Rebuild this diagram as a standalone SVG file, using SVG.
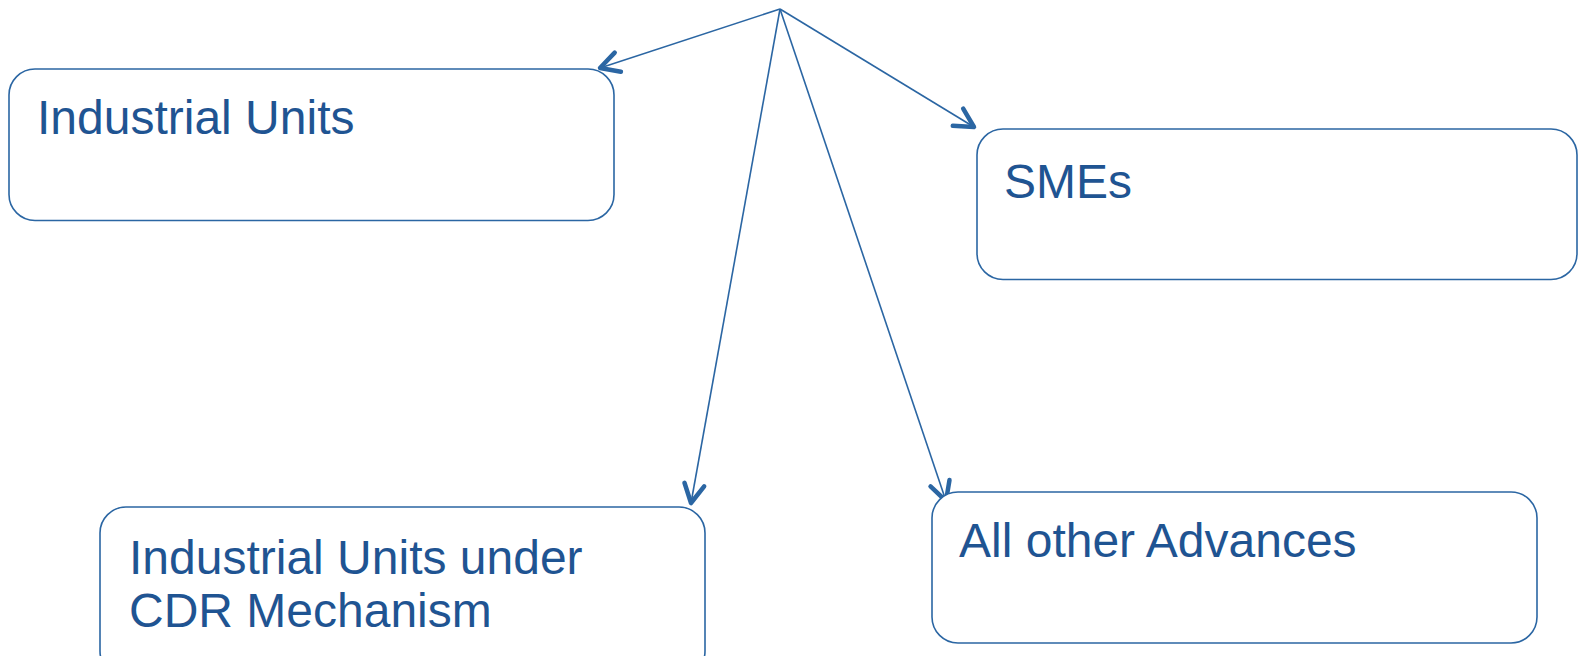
<svg xmlns="http://www.w3.org/2000/svg" width="1579" height="656" viewBox="0 0 1579 656">
<style>
.box{fill:#ffffff;stroke:#2b66a3;stroke-width:1.6}
.lbl{font-family:"Liberation Sans",Arial,sans-serif;font-size:48px;fill:#1f5492}
.conn{stroke:#2b66a3;stroke-width:1.6;fill:none;marker-end:url(#ah)}
</style>
<defs>
<marker id="ah" markerUnits="userSpaceOnUse" markerWidth="30" markerHeight="30" viewBox="-20 -10 24 20" refX="0" refY="0" orient="auto">
<path d="M-15,-8 L0,0 L-15,8" fill="none" stroke="#2b66a3" stroke-width="3.6" stroke-linecap="round" stroke-linejoin="round"/>
</marker>
</defs>
<rect width="1579" height="656" fill="#ffffff"/>
<g id="connectors">
<line class="conn" x1="780" y1="9" x2="600" y2="68"/>
<line class="conn" x1="780" y1="9" x2="974" y2="127"/>
<line class="conn" x1="780" y1="9" x2="691" y2="503"/>
<line class="conn" x1="780" y1="9" x2="946" y2="501"/>
</g>
<g id="node-industrial-units">
<rect class="box" x="9" y="69" width="605" height="151.5" rx="26"/>
<text class="lbl" x="37" y="134">Industrial Units</text>
</g>
<g id="node-smes">
<rect class="box" x="977" y="129" width="600" height="150.5" rx="26"/>
<text class="lbl" x="1004" y="198">SMEs</text>
</g>
<g id="node-cdr">
<rect class="box" x="100" y="507" width="605" height="170" rx="26"/>
<text class="lbl" x="129" y="574">Industrial Units under</text>
<text class="lbl" x="129" y="627">CDR Mechanism</text>
</g>
<g id="node-other">
<rect class="box" x="932" y="492" width="605" height="151" rx="26"/>
<text class="lbl" x="959" y="557">All other Advances</text>
</g>
</svg>
